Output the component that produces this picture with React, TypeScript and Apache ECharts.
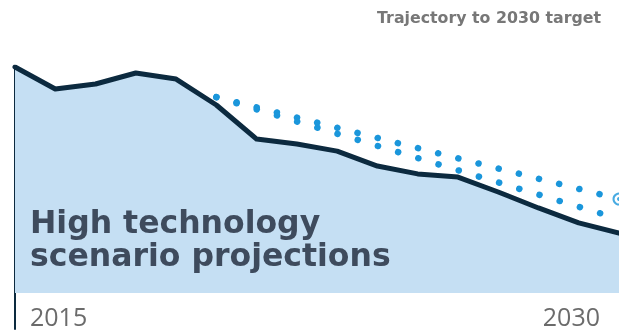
import React, { useEffect, useRef } from "react";
import * as echarts from "echarts";

// Historical + projected emissions (index, 2015 = 100)
const years = [2015, 2016, 2017, 2018, 2019, 2020, 2021, 2022, 2023, 2024, 2025, 2026, 2027, 2028, 2029, 2030];
const projection = [100, 91.6, 93.5, 97.7, 95.4, 85.5, 72.5, 70.6, 67.9, 62.2, 59.2, 58.0, 52.3, 46.2, 40.5, 36.6];

// Trajectory to 2030 target (two bounds)
const trajectoryYears = [2020, 2030];
const trajectoryUpper = [88.5, 49.6];
const trajectoryLower = [88.5, 42.0];

const areaBase = 13.7;
const axisLabels = ["2015", "2030"];
const titleText = "High technology\nscenario projections";
const legendText = "Trajectory to 2030 target";

export default function App() {
  const ref = useRef<HTMLDivElement>(null);
  useEffect(() => {
    if (!ref.current) return;
    const chart = echarts.init(ref.current, null, { renderer: "svg" });
    const font = "'Open Sans', sans-serif";
    const wide = "'DejaVu Sans', sans-serif";
    const last = trajectoryYears.length - 1;
    chart.setOption({
      animation: false,
      title: [
        {
          text: titleText,
          left: 30,
          top: 205,
          padding: 0,
          textStyle: {
            fontFamily: wide,
            fontSize: 31.5,
            fontWeight: "bold",
            color: "#3e4b5d",
            lineHeight: 33,
          },
        },
        {
          text: legendText,
          right: 18,
          top: 9,
          padding: 0,
          textStyle: {
            fontFamily: wide,
            fontSize: 15.8,
            fontWeight: "bold",
            color: "#777777",
          },
        },
      ],
      grid: { left: 15, right: 0, top: 67, bottom: 2, containLabel: false },
      xAxis: {
        type: "value",
        min: 2015,
        max: 2030,
        interval: 5,
        axisLine: { show: false },
        axisTick: { show: false },
        splitLine: { show: false },
        axisLabel: {
          inside: true,
          margin: 1,
          alignMinLabel: "left",
          alignMaxLabel: "right",
          formatter: (v: number) =>
            String(v) === axisLabels[0]
              ? `{a|${axisLabels[0]}}`
              : String(v) === axisLabels[1]
              ? `{b|${axisLabels[1]}}`
              : "",
          rich: {
            a: { fontFamily: font, fontSize: 25, color: "#6b6b6b", padding: [0, 0, 0, 15] },
            b: { fontFamily: font, fontSize: 25, color: "#6b6b6b", padding: [0, 19, 0, 0] },
          },
        },
      },
      yAxis: {
        type: "value",
        min: 0,
        max: 100,
        axisLine: { show: true, lineStyle: { color: "#0c2a3f", width: 2 } },
        axisTick: { show: false },
        axisLabel: { show: false },
        splitLine: { show: false },
      },
      series: [
        {
          type: "line",
          data: years.map((y, i) => [y, projection[i]]),
          showSymbol: false,
          lineStyle: { color: "#0c2a3f", width: 5, join: "round", cap: "round" },
          areaStyle: { color: "#c5dff3", opacity: 1, origin: areaBase },
          z: 2,
        },
        {
          type: "line",
          data: trajectoryYears.map((y, i) => [y, trajectoryUpper[i]]),
          showSymbol: false,
          lineStyle: { color: "#1a96db", width: 6.5, type: [0.1, 20.7], cap: "round" },
          z: 3,
        },
        {
          type: "line",
          data: trajectoryYears.map((y, i) => [y, trajectoryLower[i]]),
          showSymbol: false,
          lineStyle: { color: "#1a96db", width: 6.5, type: [0.1, 21.0], cap: "round" },
          z: 3,
        },
        {
          type: "scatter",
          data: [[trajectoryYears[last], trajectoryUpper[last]]],
          symbol: "circle",
          symbolSize: 11,
          itemStyle: { color: "#ffffff", borderColor: "#1a96db", borderWidth: 2 },
          z: 4,
        },
        {
          type: "scatter",
          data: [[trajectoryYears[last], trajectoryUpper[last]]],
          symbol: "circle",
          symbolSize: 4,
          itemStyle: { color: "#1a96db" },
          z: 5,
        },
      ],
    });
    return () => chart.dispose();
  }, []);
  return (
    <div
      ref={ref}
      style={{ position: "fixed", left: 0, top: 0, width: 619, height: 331 }}
    />
  );
}
